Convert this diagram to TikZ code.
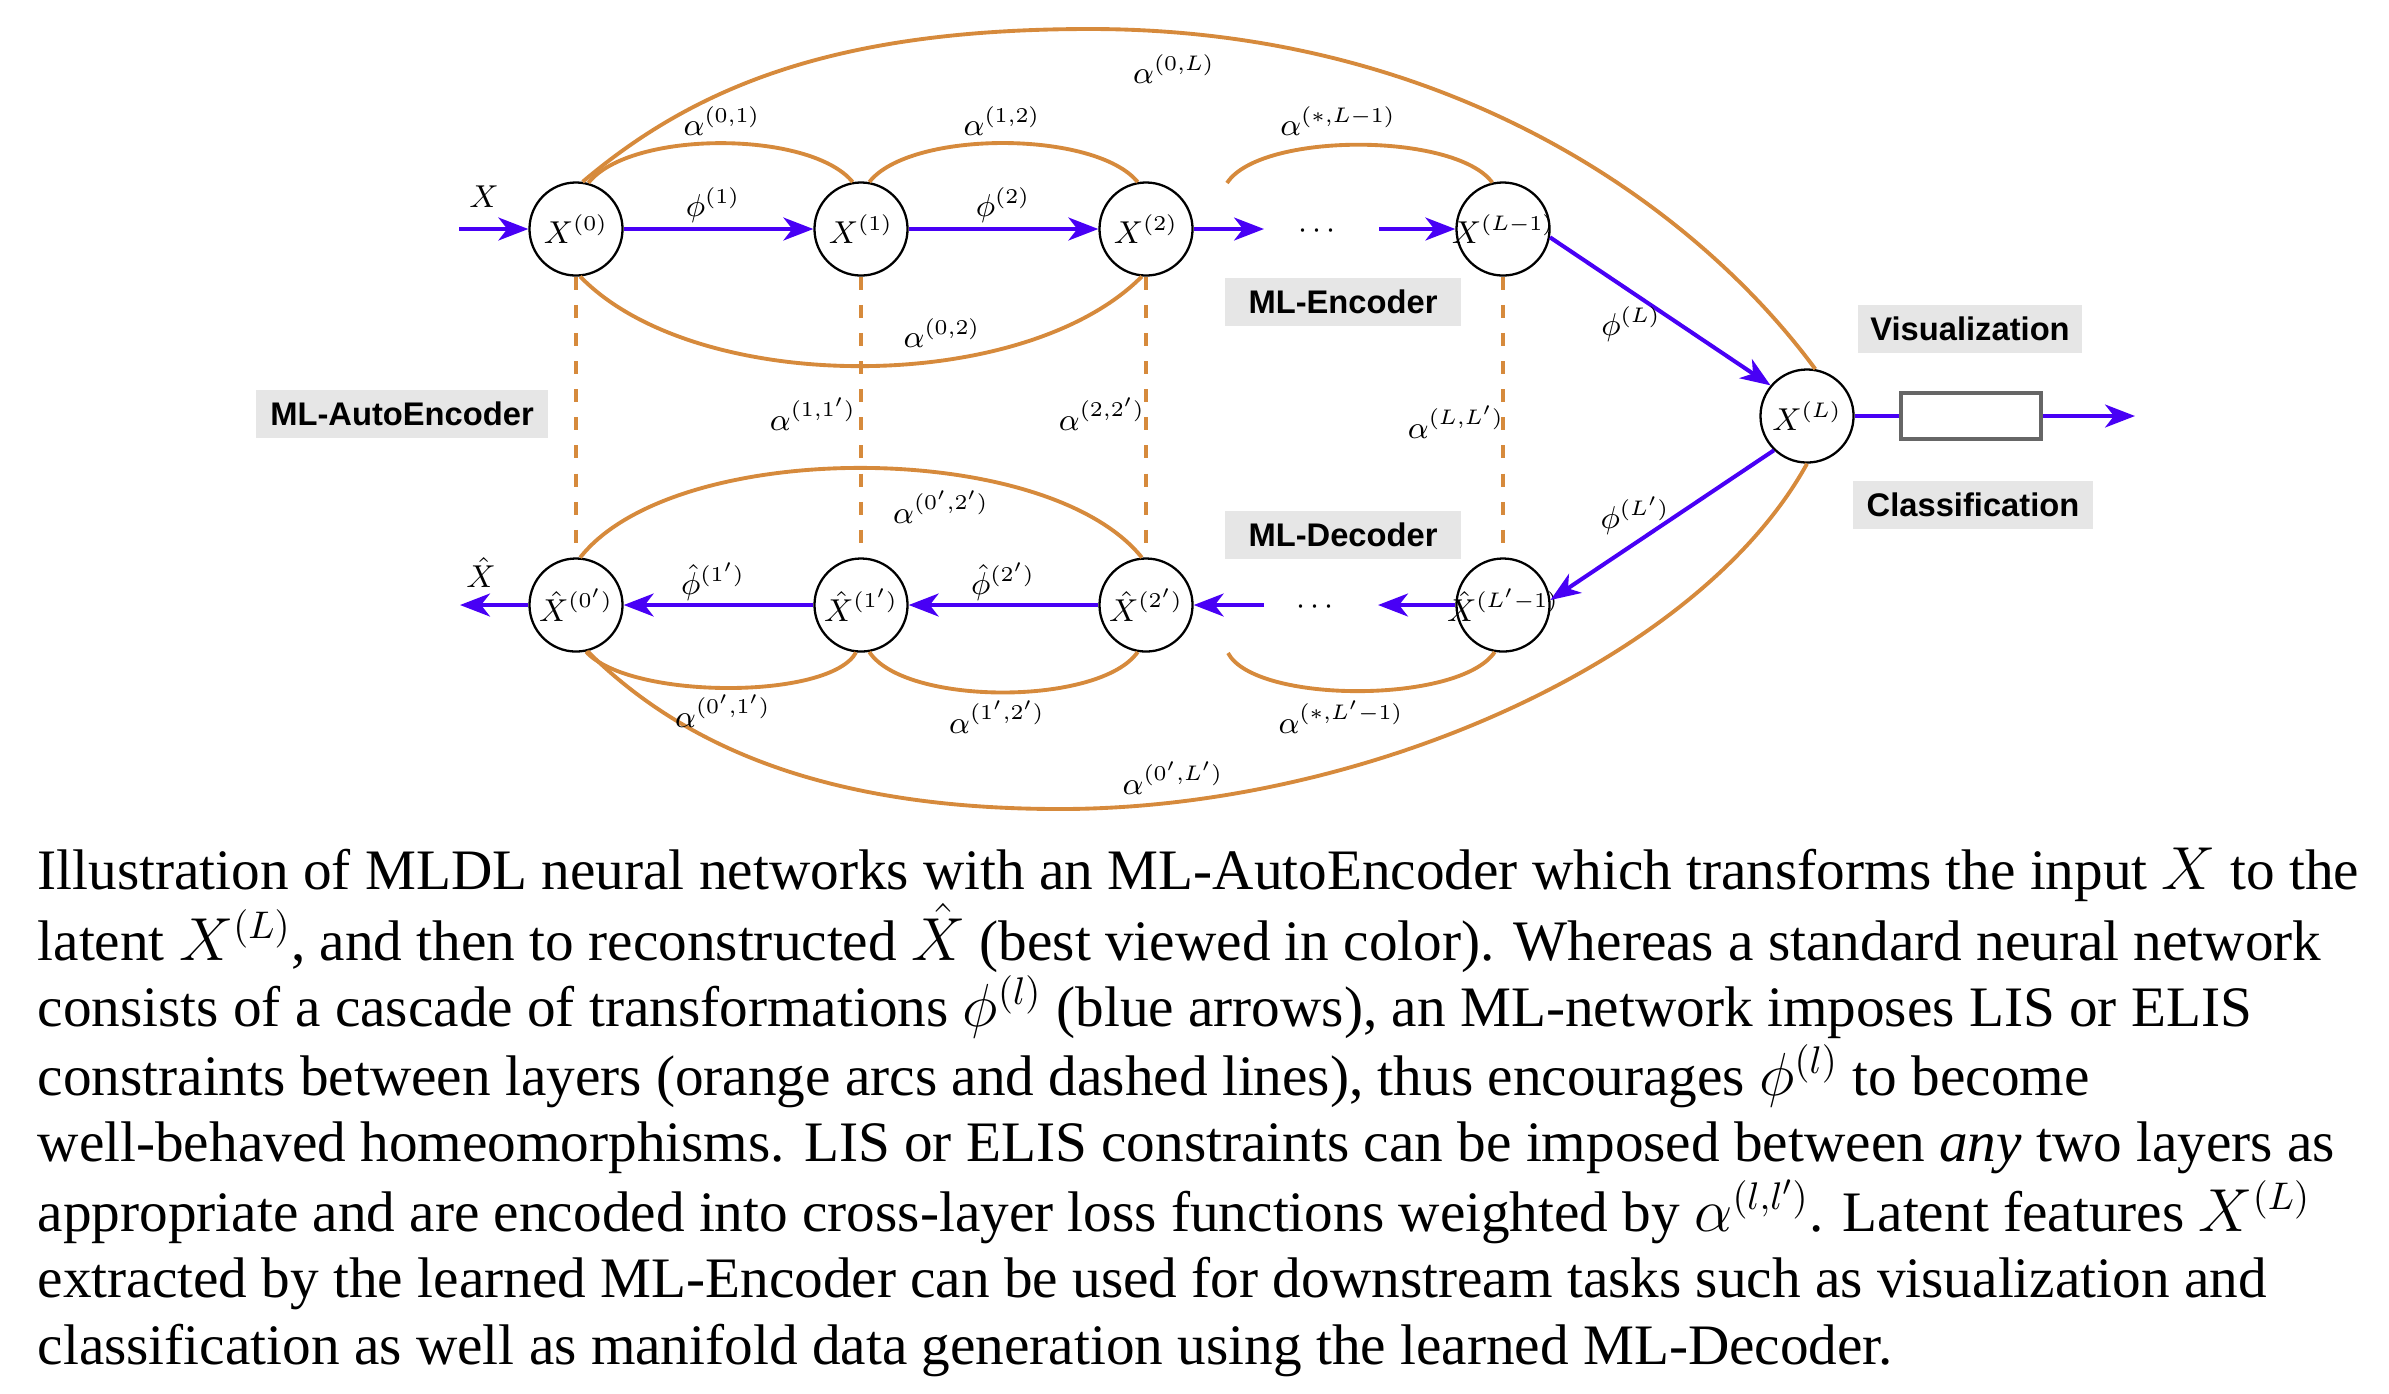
\documentclass[tikz,border=0pt]{standalone}
\usepackage{fontspec}
\setmainfont{Liberation Serif}
\newfontfamily\boxfont{Liberation Sans}
\usetikzlibrary{arrows.meta}
\definecolor{arrowblue}{RGB}{72,0,245}
\definecolor{arcorange}{RGB}{214,138,60}
\definecolor{tagfill}{RGB}{230,230,230}
\definecolor{rectgray}{RGB}{102,102,102}
\newcommand\capsetup{\fontsize{16.28pt}{18.86pt}\selectfont\lineskiplimit=-100pt\relax}
\begin{document}
\begin{tikzpicture}[x=0.01cm,y=-0.01cm,
  layer/.style={circle,draw=black,line width=0.65pt,minimum size=0.93cm,inner sep=0pt,font=\fontsize{9.2pt}{11pt}\selectfont},
  mlbl/.style={inner sep=0pt,font=\fontsize{9.2pt}{11pt}\selectfont},
  flow/.style={draw=arrowblue,line width=1.15pt,-{Stealth[length=8.5pt,width=6.5pt,inset=2.5pt]}},
  plainflow/.style={draw=arrowblue,line width=1.15pt},
  arc/.style={draw=arcorange,line width=1.1pt},
  link/.style={draw=arcorange,line width=1.2pt,dash pattern=on 3.7pt off 4.3pt},
  tag/.style={fill=tagfill,inner sep=0pt,minimum height=0.48cm,font=\boxfont\bfseries\fontsize{9.3pt}{11pt}\selectfont},
]
\useasboundingbox (0,0) rectangle (2389,1393);

% layers
\node[layer] (x0) at (576,229) {\makebox[0pt]{$X^{(0)}$}};
\node[layer] (x1) at (861,229) {\makebox[0pt]{$X^{(1)}$}};
\node[layer] (x2) at (1146,229) {\makebox[0pt]{$X^{(2)}$}};
\node[layer] (xl1) at (1503,229) {\makebox[0pt]{$X^{(L-1)}$}};
\node[layer] (xl) at (1807,416) {\makebox[0pt]{$X^{(L)}$}};
\node[layer] (h0) at (576,605) {\makebox[0pt]{$\hat{X}^{(0')}$}};
\node[layer] (h1) at (861,605) {\makebox[0pt]{$\hat{X}^{(1')}$}};
\node[layer] (h2) at (1146,605) {\makebox[0pt]{$\hat{X}^{(2')}$}};
\node[layer] (hl1) at (1503,605) {\makebox[0pt]{$\hat{X}^{(L'-1)}$}};
\node[draw=rectgray,line width=1.1pt,minimum width=1.40cm,minimum height=0.46cm,inner sep=0pt] (clf) at (1971,416) {};

% free ends
\coordinate (in) at (459,229);
\coordinate (enc1) at (1264,229);
\coordinate (enc2) at (1379,229);
\coordinate (dec1) at (1264,605);
\coordinate (dec2) at (1378,605);
\coordinate (out) at (460,605);
\coordinate (res) at (2135,416);
\coordinate (s1) at (1227,183);
\coordinate (s2) at (1228,653);

\node[mlbl] (dots1) at (1317,231) {$\cdots$};
\node[mlbl] (dots2) at (1315,607) {$\cdots$};

% orange arcs
\draw[arc] (x0.82) .. controls (698,84) and (840,29) .. (1090,29) .. controls (1450,29) and (1696,207) .. (xl.80);
\draw[arc] (x0.75) .. controls (630,130) and (810,130) .. (x1.100);
\draw[arc] (x1.80) .. controls (910,130) and (1095,130) .. (x2.100);
\draw[arc] (s1) .. controls (1260,132) and (1455,132) .. (xl1.103);
\draw[arc] (x0.-85) .. controls (696,396) and (1023,396) .. (x2.-95);
\draw[arc] (h0.85) .. controls (674,438) and (1046,438) .. (h2.95);
\draw[arc] (h0.-78) .. controls (630,700) and (830,700) .. (h1.-96);
\draw[arc] (h1.-80) .. controls (905,706) and (1100,706) .. (h2.-100);
\draw[arc] (s2) .. controls (1255,704) and (1460,704) .. (hl1.-100);
\draw[arc] (h0.-76) .. controls (680,743) and (820,809) .. (1060,809) .. controls (1360,809) and (1697,663) .. (xl.-90);

% dashed links
\draw[link] (x0) -- (h0);
\draw[link] (x1) -- (h1);
\draw[link] (x2) -- (h2);
\draw[link] (xl1) -- (hl1);

% blue arrows
\draw[flow] (in) -- (x0);
\draw[flow] (x0) -- (x1);
\draw[flow] (x1) -- (x2);
\draw[flow] (x2) -- (enc1);
\draw[flow] (enc2) -- (xl1);
\draw[flow] (xl1.-10) -- (xl.140);
\draw[flow] (xl.226) -- (hl1.6);
\draw[plainflow] (xl) -- (clf);
\draw[flow] (clf) -- (res);
\draw[flow] (hl1) -- (dec2);
\draw[flow] (dec1) -- (h2);
\draw[flow] (h2) -- (h1);
\draw[flow] (h1) -- (h0);
\draw[flow] (h0) -- (out);

% math labels
\node[mlbl] (lx) at (484,197) {$X$};
\node[mlbl] (lxh) at (481,572) {$\hat{X}$};
\node[mlbl] (p1) at (713,205) {$\phi^{(1)}$};
\node[mlbl] (p2) at (1003,205) {$\phi^{(2)}$};
\node[mlbl] (pL) at (1631,324) {$\phi^{(L)}$};
\node[mlbl] (pLp) at (1635,516) {$\phi^{(L')}$};
\node[mlbl] (ph1) at (713,582) {$\hat{\phi}^{(1')}$};
\node[mlbl] (ph2) at (1003,582) {$\hat{\phi}^{(2')}$};
\node[mlbl] (a01) at (722,121) {$\alpha^{(0,1)}$};
\node[mlbl] (a12) at (1002,121) {$\alpha^{(1,2)}$};
\node[mlbl] (asL) at (1338,121) {$\alpha^{(*,L-1)}$};
\node[mlbl] (a0L) at (1174,69) {$\alpha^{(0,L)}$};
\node[mlbl] (a02) at (942,333) {$\alpha^{(0,2)}$};
\node[mlbl] (a11) at (813,414) {$\alpha^{(1,1')}$};
\node[mlbl] (a22) at (1102,414) {$\alpha^{(2,2')}$};
\node[mlbl] (aLL) at (1456,422) {$\alpha^{(L,L')}$};
\node[mlbl] (a02h) at (941,507) {$\alpha^{(0',2')}$};
\node[mlbl] (a01h) at (723,711) {$\alpha^{(0',1')}$};
\node[mlbl] (a12h) at (997,717) {$\alpha^{(1',2')}$};
\node[mlbl] (asLh) at (1341,717) {$\alpha^{(*,L'-1)}$};
\node[mlbl] (a0Lh) at (1173,778) {$\alpha^{(0',L')}$};

% tags
\node[tag,minimum width=2.91cm] (tAE) at (402,414) {ML-AutoEncoder};
\node[tag,minimum width=2.36cm] (tEnc) at (1343,302) {ML-Encoder};
\node[tag,minimum width=2.36cm] (tDec) at (1343,535) {ML-Decoder};
\node[tag,minimum width=2.23cm] (tVis) at (1970,329) {Visualization};
\node[tag,minimum width=2.39cm] (tCls) at (1973,505) {Classification};

% caption (base anchor = baseline of the last line)
\node[anchor=base west,inner sep=0pt,align=left,font=\capsetup] (cap) at (37,1364) {Illustration of MLDL neural networks with an ML-AutoEncoder which transforms the input $X$ to the\\[1.3pt]
latent $X^{(L)}$, and then to reconstructed $\hat{X}$ (best viewed in color). Whereas a standard neural network\\
consists of a cascade of transformations $\phi^{(l)}$ (blue arrows), an ML-network imposes LIS or ELIS\\[0.6pt]
constraints between layers (orange arcs and dashed lines), thus encourages $\phi^{(l)}$ to become\\
well-behaved homeomorphisms. LIS or ELIS constraints can be imposed between \emph{any} two layers as\\[1.0pt]
appropriate and are encoded into cross-layer loss functions weighted by $\alpha^{(l,l')}$. Latent features $X^{(L)}$\\
extracted by the learned ML-Encoder can be used for downstream tasks such as visualization and\\
classification as well as manifold data generation using the learned ML-Decoder.};
\end{tikzpicture}
\end{document}
